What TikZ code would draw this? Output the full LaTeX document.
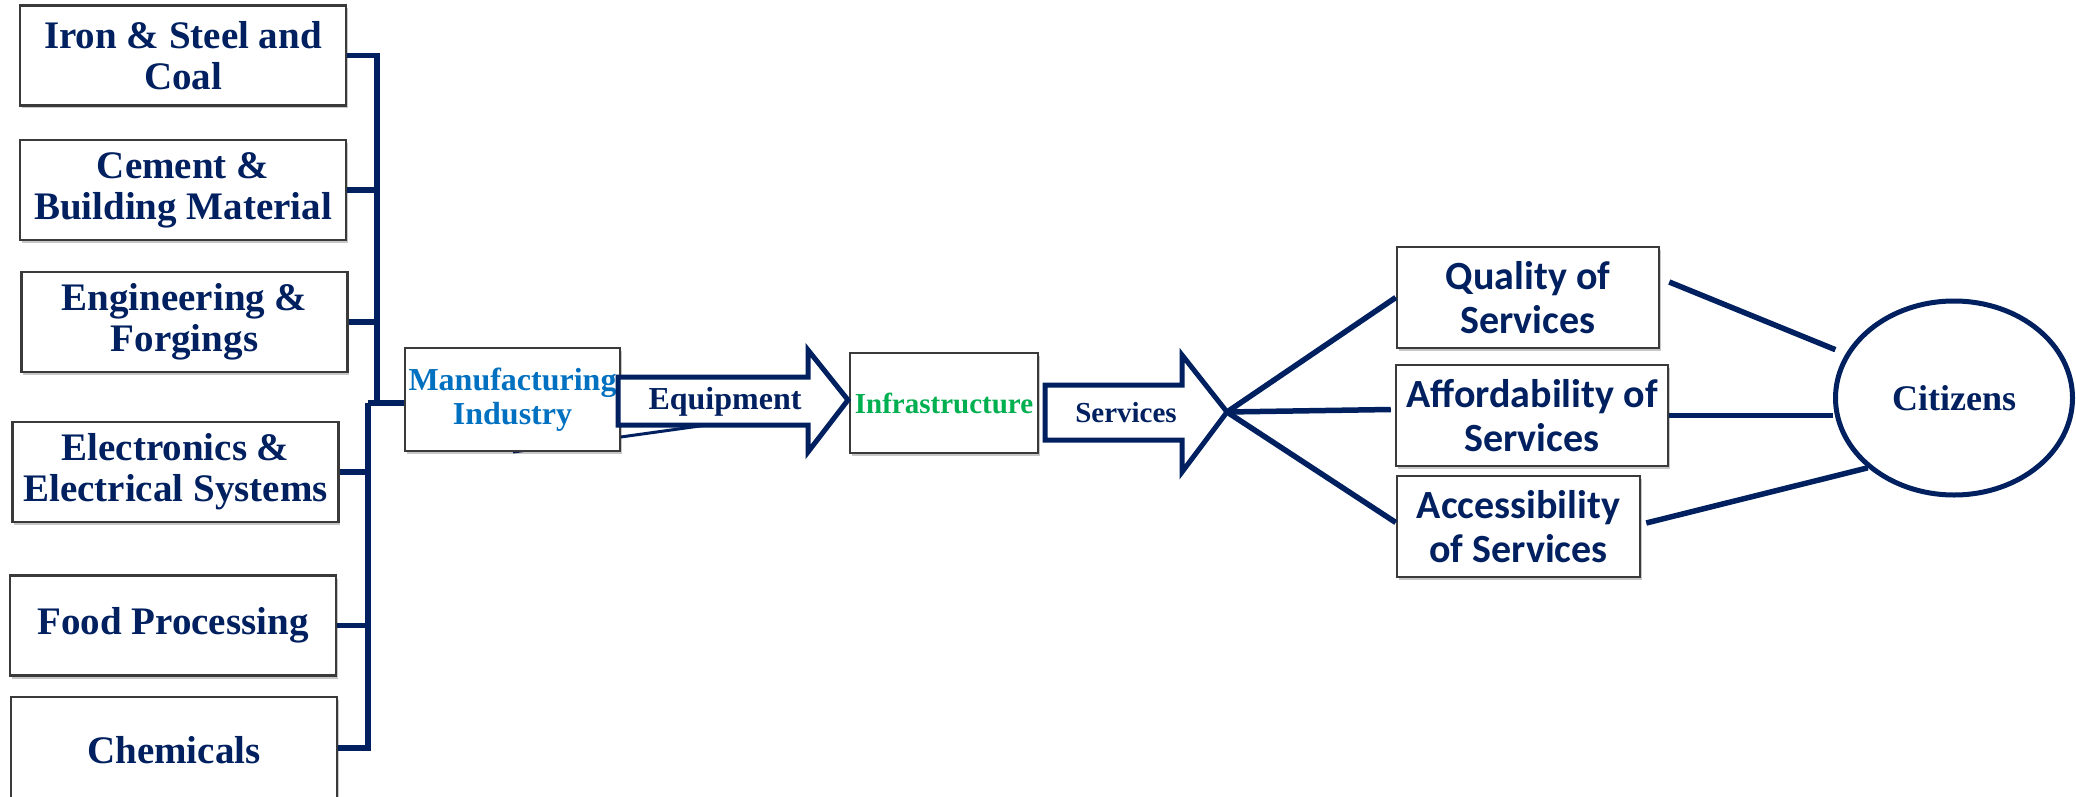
\documentclass[tikz,border=0pt]{standalone}
\usepackage{fontspec}
\setmainfont{Liberation Serif}
\newfontfamily\calibfont{Carlito}
\usetikzlibrary{calc,shadows,shapes.geometric}
\definecolor{navy}{HTML}{002060}
\definecolor{boxgray}{HTML}{3A3A3A}
\definecolor{mfgblue}{HTML}{0070C0}
\definecolor{infgreen}{HTML}{00B050}

\begin{document}
\begin{tikzpicture}[x=1pt,y=-1pt,
  panel/.style={draw=boxgray, line width=2.5pt, fill=white, inner sep=0pt, align=center, text=navy,
    drop shadow={shadow xshift=1.5pt, shadow yshift=-3pt, opacity=0.22, fill=black}},
  sector/.style={panel, minimum width=326pt, minimum height=100pt,
    font=\bfseries\fontsize{39}{41}\selectfont},
  outcome/.style={panel, minimum height=101pt,
    font=\calibfont\bfseries\fontsize{40}{44}\selectfont},
  link/.style={draw=navy, line width=5.5pt, line join=miter},
  flow/.style={draw=navy, line width=5pt, fill=white, line join=miter},
  flowtext/.style={text=navy, inner sep=0pt},
]
\useasboundingbox (0,0) rectangle (2076,797);

% industrial sectors
\node[sector] (iron)   at (183,55.5)  {Iron \& Steel and\\Coal};
\node[sector] (cement) at (183,190)   {Cement \&\\Building Material};
\node[sector] (eng)    at (184.5,322) {Engineering \&\\Forgings};
\node[sector] (elec)   at (175.5,472) {Electronics \&\\Electrical Systems};
\node[sector] (food)   at (173,625.5) {Food Processing};
\node[sector, minimum height=112pt] (chem) at (174,753) {\raisebox{7pt}{Chemicals}};

% thin link running under the manufacturing box
\coordinate (mfgfoot) at (513,452);
\coordinate (eqlow) at (707,425);
\draw[navy, line width=3pt] (mfgfoot) -- (eqlow);

% manufacturing and infrastructure
\node[panel, minimum width=215pt, minimum height=103pt, text=mfgblue,
  font=\bfseries\fontsize{32}{34}\selectfont] (mfg) at (512.5,399.5) {Manufacturing\\Industry};
\node[panel, minimum width=188pt, minimum height=100pt, text=infgreen,
  font=\bfseries\fontsize{29}{32}\selectfont] (infra) at (944,403) {Infrastructure};

% sector buses
\coordinate (busU) at (377,403);
\coordinate (busL) at (368,403);
\draw[link] (iron.east) -| (busU);
\draw[link] (cement.east) -| (busU);
\draw[link] (eng.east) -| (busU);
\draw[link] (elec.east) -| (busL);
\draw[link] (food.east) -| (busL);
\draw[link] ($(chem.east)+(0,-5)$) -| (busL);
\draw[link] (busL) -- (busL -| mfg.west);

% block arrows
\draw[flow] (618,377) -- (808,377) -- (808,350) -- (848,400) -- (808,452) -- (808,425) -- (618,425) -- cycle;
\node[flowtext, font=\bfseries\fontsize{32}{34}\selectfont] (equip) at (725,402) {Equipment};

\draw[flow] (1045,385) -- (1182,385) -- (1182,355) -- (1227,412) -- (1182,472) -- (1182,440) -- (1045,440) -- cycle;
\node[flowtext, font=\bfseries\fontsize{29}{32}\selectfont] (serv) at (1126,413) {Services};
\coordinate (stip) at (1227,412);

% service outcomes
\node[outcome, minimum width=262pt] (qual)   at (1528,297.5)   {Quality of\\Services};
\node[outcome, minimum width=272pt] (afford) at (1532,415.5)   {Affordability of\\Services};
\node[outcome, minimum width=243pt] (access) at (1518.5,526.5) {Accessibility\\of Services};

\draw[link] (stip) -- (qual.west);
\draw[link] (stip) -- ($(afford.west)+(-4,-6)$);
\draw[link] (stip) -- ($(access.west)+(0,-4)$);

% citizens
\node[ellipse, draw=navy, line width=5pt, minimum width=237pt, minimum height=194pt, inner sep=0pt,
  fill=white, text=navy, font=\bfseries\fontsize{36}{40}\selectfont] (cit) at (1954,398) {Citizens};

\draw[link, shorten >=11pt] ($(qual.east)+(9,-15.5)$) -- (cit);
\draw[link] (afford.east) -- (afford.east -| cit.west);
\draw[link] ($(access.east)+(5,-3.5)$) -- (cit.219);
\end{tikzpicture}
\end{document}
